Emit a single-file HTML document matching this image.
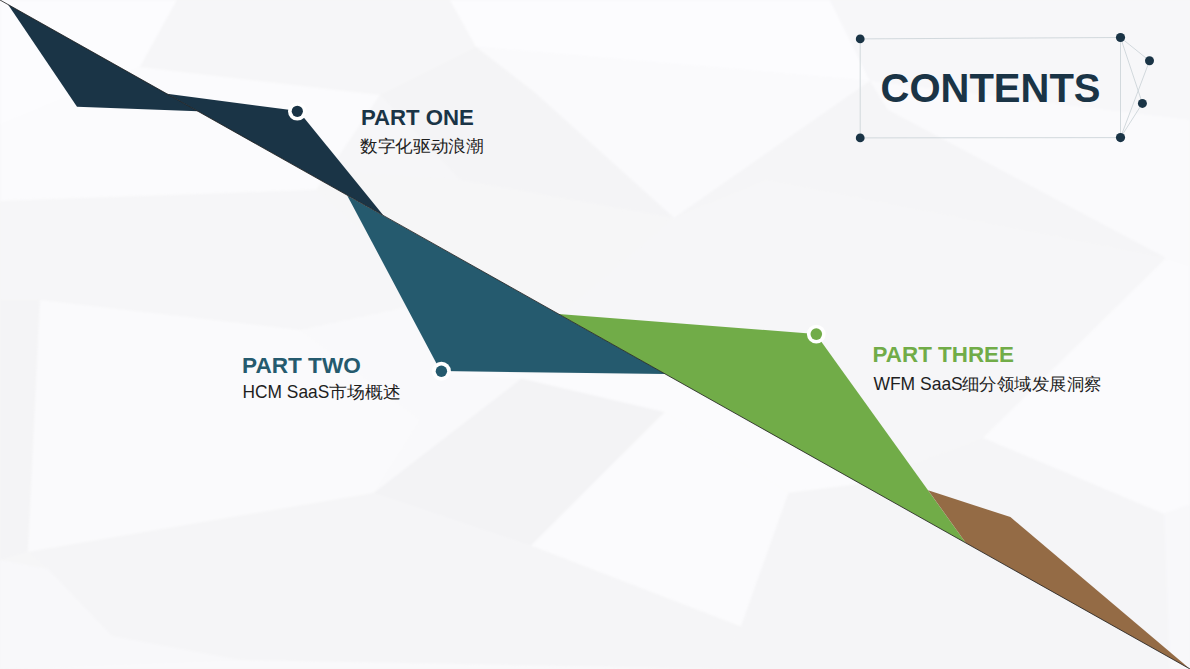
<!DOCTYPE html>
<html>
<head>
<meta charset="utf-8">
<style>
html,body{margin:0;padding:0;width:1190px;height:669px;overflow:hidden;background:#f4f4f5;}
svg{display:block;position:absolute;left:0;top:0;}
text{font-family:"Liberation Sans",sans-serif;}
</style>
</head>
<body>
<svg width="1190" height="669" viewBox="0 0 1190 669">
  <!-- background low-poly -->
  <rect x="0" y="0" width="1190" height="669" fill="#f6f6f7"/>
  <defs><filter id="soft" x="-5%" y="-5%" width="110%" height="110%"><feGaussianBlur stdDeviation="1"/></filter></defs>
  <g id="bg" filter="url(#soft)">
    <polygon points="0,0 177,0 140,67 0,125" fill="rgb(252,252,254)"/>
    <polygon points="177,0 450,0 476,47 380,95 140,67" fill="rgb(246,246,248)"/>
    <polygon points="0,125 140,67 380,95 316,190 0,201" fill="rgb(251,251,253)"/>
    <polygon points="450,0 830,0 870,81 476,47" fill="rgb(252,252,254)"/>
    <polygon points="830,0 1190,0 1190,120 888,110 870,81" fill="rgb(247,247,249)"/>
    <polygon points="476,47 870,81 674,218 534,92" fill="rgb(250,250,252)"/>
    <polygon points="534,92 674,218 460,180 380,95 476,47" fill="rgb(244,244,246)"/>
    <polygon points="380,95 460,180 347,172 316,190" fill="rgb(246,246,248)"/>
    <polygon points="870,81 888,110 1166,258 1190,266 1190,120" fill="rgb(250,250,252)"/>
    <polygon points="870,81 888,110 1166,258 767,180 674,218" fill="rgb(245,245,247)"/>
    <polygon points="0,201 316,190 440,300 300,330 40,300 0,300" fill="rgb(246,246,248)"/>
    <polygon points="0,300 40,300 28,552 0,560" fill="rgb(244,244,246)"/>
    <polygon points="40,300 300,330 420,420 373.8,493 28,552" fill="rgb(250,250,252)"/>
    <polygon points="300,330 440,300 500,372 521.6,378.6 373.8,493 420,420" fill="rgb(249,249,251)"/>
    <polygon points="28,552 373.8,493 531,545.4 741,626.5 720,669 240,660 112,636 48,569" fill="rgb(245,245,247)"/>
    <polygon points="48,569 112,636 240,660 0,669 0,560" fill="rgb(248,248,250)"/>
    <polygon points="240,660 720,669 0,669" fill="rgb(249,249,251)"/>
    <polygon points="521.6,378.6 664.6,412 531,545.4 373.8,493" fill="rgb(243,243,245)"/>
    <polygon points="664.6,412 788.5,493 741,626.5 531,545.4" fill="rgb(251,251,253)"/>
    <polygon points="420,372 665,374 860,484 788.5,493 664.6,412 521.6,378.6" fill="rgb(251,251,253)"/>
    <polygon points="674,218 767,180 1166,258 983,438 860,484 665,374 560,315" fill="rgb(246,246,248)"/>
    <polygon points="1166,258 1190,266 1190,505 1164,514 983,438" fill="rgb(251,251,253)"/>
    <polygon points="788.5,493 860,484 983,438 1164,514 1190,505 1190,669 720,669 741,626.5" fill="rgb(245,245,247)"/>
    <polygon points="1164,514 1190,505 1190,669 1170,669" fill="rgb(248,248,250)"/>
  </g>

  <!-- ribbon shapes -->
  <polygon points="8,4.5 77,106.7 198,111.3" fill="#1a3446"/>
  <polygon points="166.9,93.8 298.5,111 383.5,215.6" fill="#1a3446"/>
  <polygon points="347.2,195.4 440.5,371 665.3,374.1" fill="#255a6e"/>
  <polygon points="558.5,314 815.8,334 965.9,543" fill="#71ac48"/>
  <polygon points="928.1,490.2 1010.4,517.1 1190,669 965.9,543" fill="#946b45"/>
  <line x1="0" y1="0" x2="1190" y2="669" stroke="#1c1c1c" stroke-width="0.8"/>

  <!-- dots -->
  <circle cx="297.3" cy="111.3" r="9.3" fill="#ffffff"/>
  <circle cx="297.3" cy="111.3" r="5.6" fill="#1a3446"/>
  <circle cx="441.4" cy="371.2" r="9.5" fill="#ffffff"/>
  <circle cx="441.4" cy="371.2" r="5.7" fill="#255a6e"/>
  <circle cx="816.3" cy="334.1" r="9.4" fill="#ffffff"/>
  <circle cx="816.3" cy="334.1" r="5.8" fill="#71ac48"/>

  <!-- contents frame -->
  <g stroke="#cdd5d9" stroke-width="0.9" fill="none">
    <polyline points="860.2,38.9 1120.5,37.5 1120.5,137.6 860.2,137.9 860.2,38.9"/>
    <line x1="1120.5" y1="37.5" x2="1149.5" y2="60.8"/>
    <line x1="1120.5" y1="37.5" x2="1142.4" y2="103.4"/>
    <line x1="1149.5" y1="60.8" x2="1120.5" y2="137.6"/>
    <line x1="1142.4" y1="103.4" x2="1120.5" y2="137.6"/>
  </g>
  <g fill="#1a3446">
    <circle cx="860.2" cy="38.9" r="4.4"/>
    <circle cx="1120.5" cy="37.5" r="4.6"/>
    <circle cx="860.2" cy="137.9" r="4.4"/>
    <circle cx="1120.5" cy="137.6" r="4.6"/>
    <circle cx="1149.5" cy="60.8" r="4.5"/>
    <circle cx="1142.4" cy="103.4" r="4.5"/>
  </g>

  <!-- text -->
  <text x="880.5" y="102.4" font-size="40" font-weight="bold" fill="#1a3446">CONTENTS</text>
  <text x="360.9" y="124.7" font-size="22.2" font-weight="bold" fill="#1a3446">PART ONE</text>
  <text x="360" y="152.2" font-size="17.4" fill="#1e1e1e" textLength="123.5" lengthAdjust="spacingAndGlyphs">数字化驱动浪潮</text>
  <text x="242" y="372.5" font-size="22.6" font-weight="bold" fill="#255a6e">PART TWO</text>
  <text y="397.7" fill="#1e1e1e"><tspan x="242.5" font-size="18.4" textLength="86.8" lengthAdjust="spacingAndGlyphs">HCM SaaS</tspan><tspan x="329.4" font-size="17.4" textLength="71.4" lengthAdjust="spacingAndGlyphs">市场概述</tspan></text>
  <text x="872.6" y="361.5" font-size="22.4" font-weight="bold" fill="#71ac48">PART THREE</text>
  <text y="389.7" fill="#1e1e1e"><tspan x="873.4" font-size="18.4" textLength="89.4" lengthAdjust="spacingAndGlyphs">WFM SaaS</tspan><tspan x="961.5" font-size="17.4" textLength="140" lengthAdjust="spacingAndGlyphs">细分领域发展洞察</tspan></text>
</svg>
</body>
</html>
